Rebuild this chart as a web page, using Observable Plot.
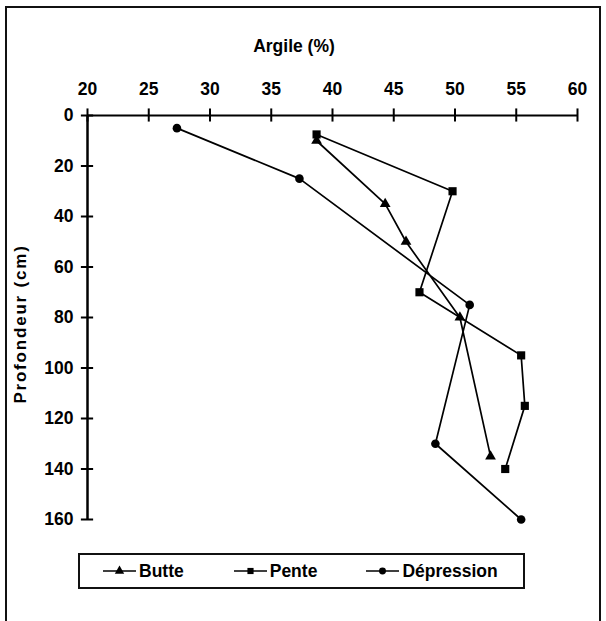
<!DOCTYPE html>
<html><head><meta charset="utf-8">
<script src="https://cdn.jsdelivr.net/npm/d3@7"></script>
<script src="https://cdn.jsdelivr.net/npm/@observablehq/plot@0.6"></script>
<style>
body{margin:0;background:#fff;font-family:"Liberation Sans",Arial,sans-serif;font-weight:bold;color:#000}
#wrap{position:relative;width:606px;height:621px;overflow:hidden;background:#fff}
#wrap svg.plot{position:absolute;left:0;top:0}
#frame{position:absolute;left:5px;top:6px;width:596px;height:640px;border:2px solid #111;box-sizing:border-box;pointer-events:none}
#xtitle{position:absolute;left:194px;width:200px;top:37.5px;text-align:center;font-size:17.5px;line-height:17.5px;white-space:nowrap}
#ytitle{position:absolute;left:20px;top:323.5px;transform:translate(-50%,-50%) rotate(-90deg);font-size:17px;line-height:17px;letter-spacing:1.8px;white-space:nowrap}
#legend{position:absolute;left:78px;top:553px;width:447px;height:36px;border:2px solid #111;box-sizing:border-box;display:flex;align-items:center;font-size:17.5px}
.item{display:flex;align-items:center}
.item svg{margin-right:3px}
</style></head>
<body>
<div id="wrap">
  <div id="frame"></div>
  <div id="xtitle">Argile (%)</div>
  <div id="ytitle">Profondeur (cm)</div>
  <div id="legend"></div>
</div>
<script>
// ---- data ----
const series = ["Butte", "Pente", "Dépression"];
const symbols = ["triangle", "square", "circle"];
const butteClay = [38.7, 44.3, 46.0, 50.4, 52.9];
const butteDepth = [10, 35, 50, 80, 135];
const penteClay = [38.7, 49.8, 47.1, 55.4, 55.7, 54.1];
const penteDepth = [7.5, 30, 70, 95, 115, 140];
const depClay = [27.3, 37.3, 51.2, 48.4, 55.4];
const depDepth = [5, 25, 75, 130, 160];
const xTicks = [20, 25, 30, 35, 40, 45, 50, 55, 60];
const yTicks = [0, 20, 40, 60, 80, 100, 120, 140, 160];

const rows = [];
butteClay.forEach((v, i) => rows.push({series: "Butte", clay: v, depth: butteDepth[i]}));
penteClay.forEach((v, i) => rows.push({series: "Pente", clay: v, depth: penteDepth[i]}));
depClay.forEach((v, i) => rows.push({series: "Dépression", clay: v, depth: depDepth[i]}));

const sizes = {"Butte": 4, "Pente": 4.6, "Dépression": 4.3};

const chart = Plot.plot({
  width: 606, height: 621,
  marginLeft: 87, marginRight: 29, marginTop: 115, marginBottom: 102,
  style: {fontFamily: '"Liberation Sans", Arial, sans-serif', fontWeight: "bold", fontSize: "17.5px", color: "#000", background: "transparent", overflow: "visible"},
  x: {domain: [20, 60]},
  y: {domain: [0, 160], reverse: true},
  symbol: {domain: series, range: symbols},
  marks: [
    Plot.axisX({anchor: "top", ticks: xTicks, tickSize: 0, tickPadding: 21, label: null, fill: "#000"}),
    Plot.axisY({anchor: "left", ticks: yTicks, tickSize: 0, tickPadding: 14, label: null, fill: "#000"}),
    Plot.ruleY([0], {x1: 20, x2: 60, stroke: "#000", strokeWidth: 2.2}),
    Plot.ruleX([20], {y1: 0, y2: 160, stroke: "#000", strokeWidth: 2.5}),
    Plot.ruleX(xTicks, {x: d => d, y1: -2.6, y2: 2.6, stroke: "#000", strokeWidth: 2}),
    Plot.ruleY(yTicks, {y: d => d, x1: 19.5, x2: 20.5, stroke: "#000", strokeWidth: 2}),
    Plot.line(rows, {x: "clay", y: "depth", z: "series", stroke: "#000", strokeWidth: 1.7}),
    ...series.map(s => Plot.dot(rows.filter(d => d.series === s), {x: "clay", y: "depth", symbol: "series", fill: "#000", stroke: "none", r: sizes[s]}))
  ]
});
document.getElementById("wrap").prepend(chart);

// legend
const leg = d3.select("#legend");
const gaps = [23, 50, 49];
series.forEach((s, i) => {
  const it = leg.append("div").attr("class", "item").style("margin-left", gaps[i] + "px");
  const sv = it.append("svg").attr("width", 33).attr("height", 14);
  sv.append("line").attr("x1", 0).attr("x2", 33).attr("y1", 7).attr("y2", 7).attr("stroke", "#000").attr("stroke-width", 1.7);
  const sym = {triangle: d3.symbolTriangle, square: d3.symbolSquare, circle: d3.symbolCircle}[symbols[i]];
  sv.append("path").attr("transform", "translate(16.5,7)").attr("d", d3.symbol(sym, 38)()).attr("fill", "#000");
  it.append("span").text(s);
});
</script>
</body></html>
